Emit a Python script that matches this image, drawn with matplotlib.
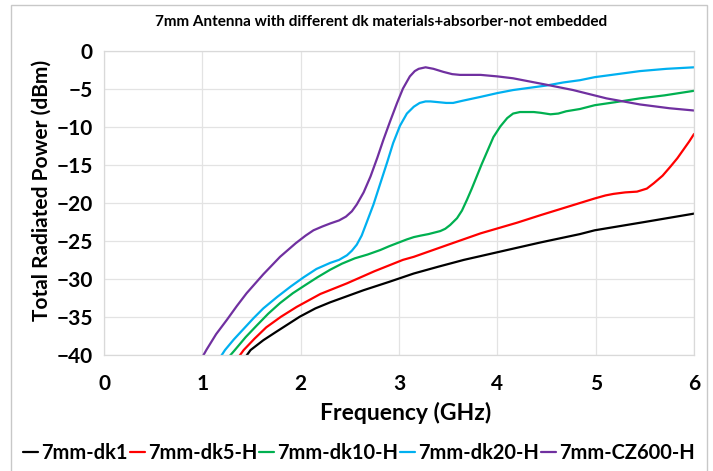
import matplotlib
matplotlib.use("Agg")
from matplotlib import pyplot as plt
from matplotlib.patches import Rectangle

# data (GHz, dBm)
f_dk1 = [1.40, 1.49, 1.62, 1.75, 1.87, 1.99, 2.15, 2.30, 2.47, 2.64, 2.90, 3.15, 3.40, 3.66, 3.83,
         4.10, 4.44, 4.84, 4.99, 5.50, 6.00]
p_dk1 = [-41.0, -39.4, -38.1, -37.0, -36.0, -35.0, -33.9, -33.1, -32.3, -31.5, -30.4, -29.3, -28.4, -27.5, -27.0,
         -26.2, -25.2, -24.1, -23.6, -22.5, -21.4]

f_dk5 = [1.33, 1.42, 1.53, 1.65, 1.80, 1.96, 2.20, 2.47, 2.75, 3.04, 3.15, 3.50, 3.83, 4.20, 4.44, 4.84,
         4.99, 5.10, 5.18, 5.30, 5.42, 5.52, 5.59, 5.68, 5.76, 5.83, 5.89, 5.95, 6.00]
p_dk5 = [-41.0, -39.4, -37.9, -36.4, -35.0, -33.7, -32.0, -30.6, -29.0, -27.5, -27.1, -25.5, -24.0, -22.6, -21.6, -20.0,
         -19.4, -19.0, -18.8, -18.6, -18.5, -18.1, -17.4, -16.4, -15.2, -14.1, -13.0, -11.9, -10.9]

f_dk10 = [1.25, 1.33, 1.44, 1.55, 1.67, 1.79, 1.92, 2.05, 2.17, 2.30, 2.42, 2.55, 2.68, 2.81, 2.90, 3.00,
          3.08, 3.15, 3.22, 3.30, 3.36, 3.42, 3.47, 3.52, 3.59, 3.64, 3.69, 3.74, 3.79, 3.84, 3.89,
          3.96, 4.03, 4.10, 4.16, 4.23, 4.30, 4.37, 4.44, 4.54, 4.62, 4.70, 4.84, 4.99, 5.20, 5.45, 5.70, 6.00]
p_dk10 = [-40.6, -39.4, -37.7, -36.2, -34.6, -33.2, -31.9, -30.8, -29.8, -28.8, -28.0, -27.3, -26.8, -26.2, -25.7, -25.2,
          -24.8, -24.5, -24.3, -24.1, -23.9, -23.7, -23.4, -22.9, -22.0, -21.0, -19.6, -18.1, -16.5, -14.9, -13.4,
          -11.3, -9.9, -8.8, -8.2, -8.0, -8.0, -8.0, -8.1, -8.3, -8.2, -7.9, -7.6, -7.1, -6.7, -6.2, -5.8, -5.2]

f_dk20 = [1.17, 1.23, 1.32, 1.42, 1.52, 1.62, 1.76, 1.90, 2.03, 2.16, 2.23, 2.30, 2.39, 2.47, 2.52, 2.57,
          2.62, 2.67, 2.74, 2.81, 2.88, 2.94, 3.01, 3.08, 3.15, 3.21, 3.27, 3.32, 3.40, 3.48, 3.55, 3.65,
          3.83, 4.00, 4.16, 4.33, 4.50, 4.67, 4.84, 4.99, 5.22, 5.45, 5.72, 6.00]
p_dk20 = [-40.6, -39.4, -38.0, -36.6, -35.2, -33.9, -32.4, -31.0, -29.8, -28.7, -28.3, -27.9, -27.5, -26.9, -26.3, -25.5,
          -24.3, -22.6, -20.2, -17.4, -14.6, -12.1, -9.8, -8.2, -7.3, -6.8, -6.6, -6.6, -6.7, -6.8, -6.8, -6.5,
          -6.0, -5.5, -5.1, -4.8, -4.5, -4.1, -3.8, -3.4, -3.0, -2.6, -2.3, -2.1]

f_cz600 = [0.98, 1.04, 1.14, 1.25, 1.35, 1.45, 1.62, 1.79, 1.95, 2.05, 2.13, 2.22, 2.30, 2.39, 2.46, 2.52,
           2.57, 2.64, 2.71, 2.78, 2.84, 2.91, 2.98, 3.04, 3.11, 3.16, 3.20, 3.27, 3.35, 3.45, 3.54, 3.62,
           3.70, 3.83, 4.00, 4.16, 4.30, 4.50, 4.77, 5.11, 5.45, 5.75, 6.00]
p_cz600 = [-40.8, -39.4, -37.3, -35.4, -33.6, -31.9, -29.4, -27.1, -25.3, -24.3, -23.6, -23.1, -22.7, -22.3, -21.8, -21.1,
           -20.2, -18.6, -16.5, -14.0, -11.7, -9.2, -6.8, -4.9, -3.3, -2.6, -2.3, -2.1, -2.3, -2.7, -3.0, -3.1,
           -3.1, -3.1, -3.3, -3.55, -3.9, -4.4, -5.1, -6.2, -7.0, -7.5, -7.8]

series = [
    ("7mm-dk1", f_dk1, p_dk1, "#000000"),
    ("7mm-dk5-H", f_dk5, p_dk5, "#ff0000"),
    ("7mm-dk10-H", f_dk10, p_dk10, "#00b050"),
    ("7mm-dk20-H", f_dk20, p_dk20, "#00b0f0"),
    ("7mm-CZ600-H", f_cz600, p_cz600, "#7030a0"),
]

x_ticks = [0, 1, 2, 3, 4, 5, 6]
y_ticks = [0, -5, -10, -15, -20, -25, -30, -35, -40]

plt.rcParams['font.family'] = ['Lato', 'DejaVu Sans']

fig = plt.figure(figsize=(7.13, 4.71), dpi=100)
ax = fig.add_axes([0.1459, 0.2471, 0.8275, 0.6438])

for name, f, p, c in series:
    ax.plot(f, p, color=c, lw=1.6, label=name, solid_capstyle='round', solid_joinstyle='round')

ax.set_xlim(0, 6)
ax.set_ylim(-40, 0)
ax.set_xticks(x_ticks)
ax.set_yticks(y_ticks)
ax.grid(True, color='#e3e3e3', lw=0.9)
ax.set_axisbelow(True)
for s in ax.spines.values():
    s.set_color('#d9d9d9')
    s.set_linewidth(0.9)
ax.tick_params(length=0, labelsize=15)
ax.tick_params(axis='x', pad=14)
ax.tick_params(axis='y', pad=8)
for lab in ax.get_xticklabels() + ax.get_yticklabels():
    lab.set_fontweight('bold')

ax.set_xlabel('Frequency (GHz)', fontsize=16.5, fontweight='bold', va='center')
ax.xaxis.set_label_coords(0.512, -0.193)
ax.set_ylabel('Total Radiated Power (dBm)', fontsize=15, fontweight='bold', va='center')
ax.yaxis.set_label_coords(-0.105, 0.54)

fig.text(0.534, 0.953, '7mm Antenna with different dk materials+absorber-not embedded',
         ha='center', va='center', fontsize=11, fontweight='bold')

fig.legend(loc='center', bbox_to_anchor=(0.5035, 0.038), ncol=5, frameon=False,
           prop={'size': 14.4, 'weight': 'bold'}, handlelength=0.75,
           handletextpad=0.15, columnspacing=0.1)

# outer chart border
fig.patches.append(Rectangle((11 / 713, -0.02), 696 / 713, 1.02 - 5 / 471,
                             transform=fig.transFigure, fill=False,
                             edgecolor='#c8c8c8', lw=1.0))

fig.savefig('out.png', dpi=100)
